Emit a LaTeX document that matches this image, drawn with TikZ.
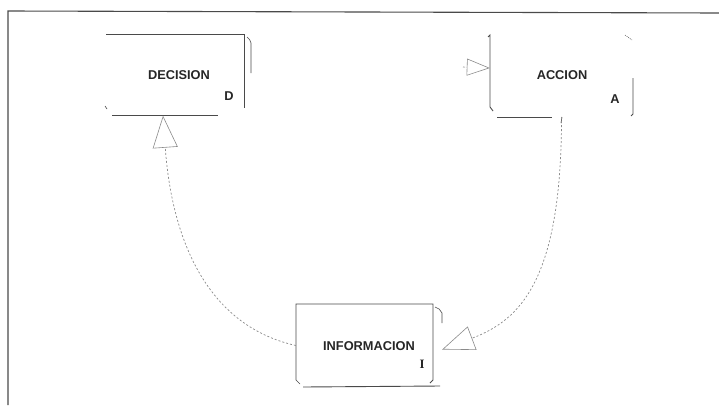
\documentclass[tikz,border=0pt]{standalone}
\usepackage{fontspec}
\setmainfont{Liberation Sans}
\newfontfamily\serifb{Liberation Serif}
\usetikzlibrary{arrows.meta,calc}
\definecolor{ink}{HTML}{4A4A4A}
\definecolor{txt}{HTML}{262626}
\definecolor{faint}{HTML}{8A8A8A}
\tikzset{
  boxarea/.style={inner sep=0pt, draw=none},
  lbl/.style={font=\fontsize{12.8}{14}\selectfont\bfseries, text=txt, inner sep=0pt},
  edge/.style={draw=ink, line width=0.9pt},
  flow/.style={draw=faint, line width=0.7pt, dash pattern=on 2pt off 2pt,
    -{Triangle[open, length=32pt, width=25pt, line width=0.6pt]}},
  small/.style={draw=faint, line width=0.6pt, dash pattern=on 2pt off 1.5pt,
    -{Triangle[open, length=23pt, width=17pt, line width=0.6pt]}}
}
\begin{document}
\begin{tikzpicture}[x=1pt, y=-1pt]
\useasboundingbox (0,0) rectangle (719,405);
% outer frame
\draw[draw=ink, line width=1.1pt] (8,405) -- (8,11) -- (719,13);

% box areas
\node[boxarea, minimum width=138pt, minimum height=81pt] (D) at (175,74) {};
\node[boxarea, minimum width=143pt, minimum height=82pt] (A) at (561.5,76) {};
\node[boxarea, minimum width=137pt, minimum height=83pt] (I) at (364.5,345.5) {};

% DECISION box strokes
\draw[edge] (106,34) -- (244,34) -- (244,108);
\draw[edge] (112,115) -- (218,115);
\draw[edge, line width=0.6pt] (247,37) to[bend left=20] (251,43) -- (251,73);
\draw[edge, line width=0.6pt] (105,106) -- (107,109);

% ACCION box strokes
\draw[edge] (488,37) -- (490,35) -- (490,107) to[bend right=20] (493,111);
\draw[edge] (497,117) -- (552,117);
\draw[edge, line width=0.6pt] (562,117) -- (561,123);
\draw[edge] (633,78) -- (633,114) -- (631,116);
\draw[edge, line width=0.5pt, dash pattern=on 1pt off 1pt] (625,35) -- (632,40);

% INFORMACION box strokes
\draw[edge] (296,380) -- (296,304) -- (433,304) -- (433,380) -- (430,383);
\draw[edge] (303,387) -- (440,386);
\draw[edge, line width=0.6pt] (435,307) to[bend left=25] (442,313) -- (442,323);
\draw[edge, line width=0.6pt] (296,380) -- (300,384);

% labels
\node[lbl] (Dt) at (179,75) {DECISION};
\node[lbl] (Dl) at (229,96) {D};
\node[lbl] (At) at (562,75) {ACCION};
\node[lbl] (Al) at (615,99) {A};
\node[lbl] (It) at (369,346) {INFORMACION};
\node[lbl, font=\fontsize{12.8}{14}\selectfont\serifb\bfseries] (Il) at (422,364) {I};

% connectors
\draw[flow] (A.south) .. controls +(0,163) and +(78,-29.5) .. ($(I.east)+(9,4)$);
\draw[flow] (I.west) .. controls +(-91,-20.5) and +(8.5,120) .. ($(D.south)+(-12,1)$);
\coordinate (atail) at (463,67);
\draw[small] (atail) -- ($(A.west)+(0,-8)$);
\end{tikzpicture}
\end{document}
